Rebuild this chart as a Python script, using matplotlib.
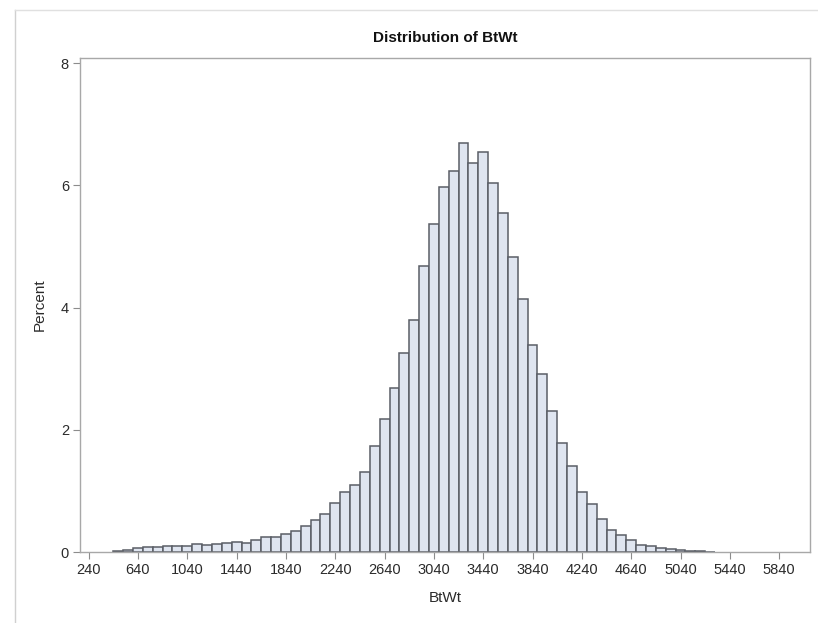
import matplotlib
matplotlib.use("Agg")
import matplotlib.pyplot as plt
from matplotlib.lines import Line2D

plt.rcParams['font.family'] = ['Liberation Sans', 'DejaVu Sans']

# Bin midpoints (BtWt) and percent per bin (bin width 80)
bin_width = 80
midpoints = list(range(480, 5281, 80))
percent = [0.02, 0.04, 0.07, 0.08, 0.08, 0.10, 0.10, 0.10, 0.13, 0.11,
           0.13, 0.15, 0.16, 0.15, 0.19, 0.25, 0.25, 0.30, 0.34, 0.42,
           0.53, 0.63, 0.80, 0.98, 1.10, 1.31, 1.73, 2.17, 2.69, 3.25,
           3.79, 4.68, 5.37, 5.98, 6.23, 6.70, 6.36, 6.55, 6.04, 5.55,
           4.83, 4.14, 3.38, 2.92, 2.30, 1.78, 1.41, 0.98, 0.79, 0.54,
           0.36, 0.28, 0.19, 0.11, 0.10, 0.07, 0.05, 0.03, 0.02, 0.01,
           0.005]
xticks = list(range(240, 5841, 400))
yticks = [0, 2, 4, 6, 8]

W, H = 818, 623
fig = plt.figure(figsize=(W / 100, H / 100), dpi=100)
left, right, top, bottom = 80, 810, 58.3, 552
ax = fig.add_axes([left / W, 1 - bottom / H, (right - left) / W, (bottom - top) / H])

ax.bar(midpoints, percent, width=bin_width, align='center',
       color='#dfe5f0', edgecolor='#5a5e66', linewidth=1.1, zorder=2)

ax.set_xlim(170, 6090)
ax.set_ylim(0, 8.08)
ax.set_xticks(xticks)
ax.set_xticklabels([str(t) for t in xticks])
ax.set_yticks(yticks)
ax.set_yticklabels([str(t) for t in yticks])

frame_col = '#a8a8a8'
for s in ax.spines.values():
    s.set_color(frame_col)
    s.set_linewidth(1.0)
ax.tick_params(axis='both', direction='out', length=5, width=0.8,
               color='#8c8c8c', labelsize=10.5, labelcolor='#2b2b2b', pad=3)

ax.set_title('Distribution of BtWt', fontsize=11, fontweight='bold',
             color='#111111', pad=12)
ax.set_xlabel('BtWt', fontsize=11, color='#2b2b2b', labelpad=10)
ax.set_ylabel('Percent', fontsize=11, color='#2b2b2b', labelpad=10)

# outer graph border (light gray)
fig.add_artist(Line2D([15 / W, 15 / W], [0, 1 - 10 / H], transform=fig.transFigure,
                      color='#d0d0d0', linewidth=1.0))
fig.add_artist(Line2D([15 / W, 1], [1 - 10 / H, 1 - 10 / H], transform=fig.transFigure,
                      color='#e0e0e0', linewidth=1.0))

fig.savefig('out.png', dpi=100, facecolor='white')
